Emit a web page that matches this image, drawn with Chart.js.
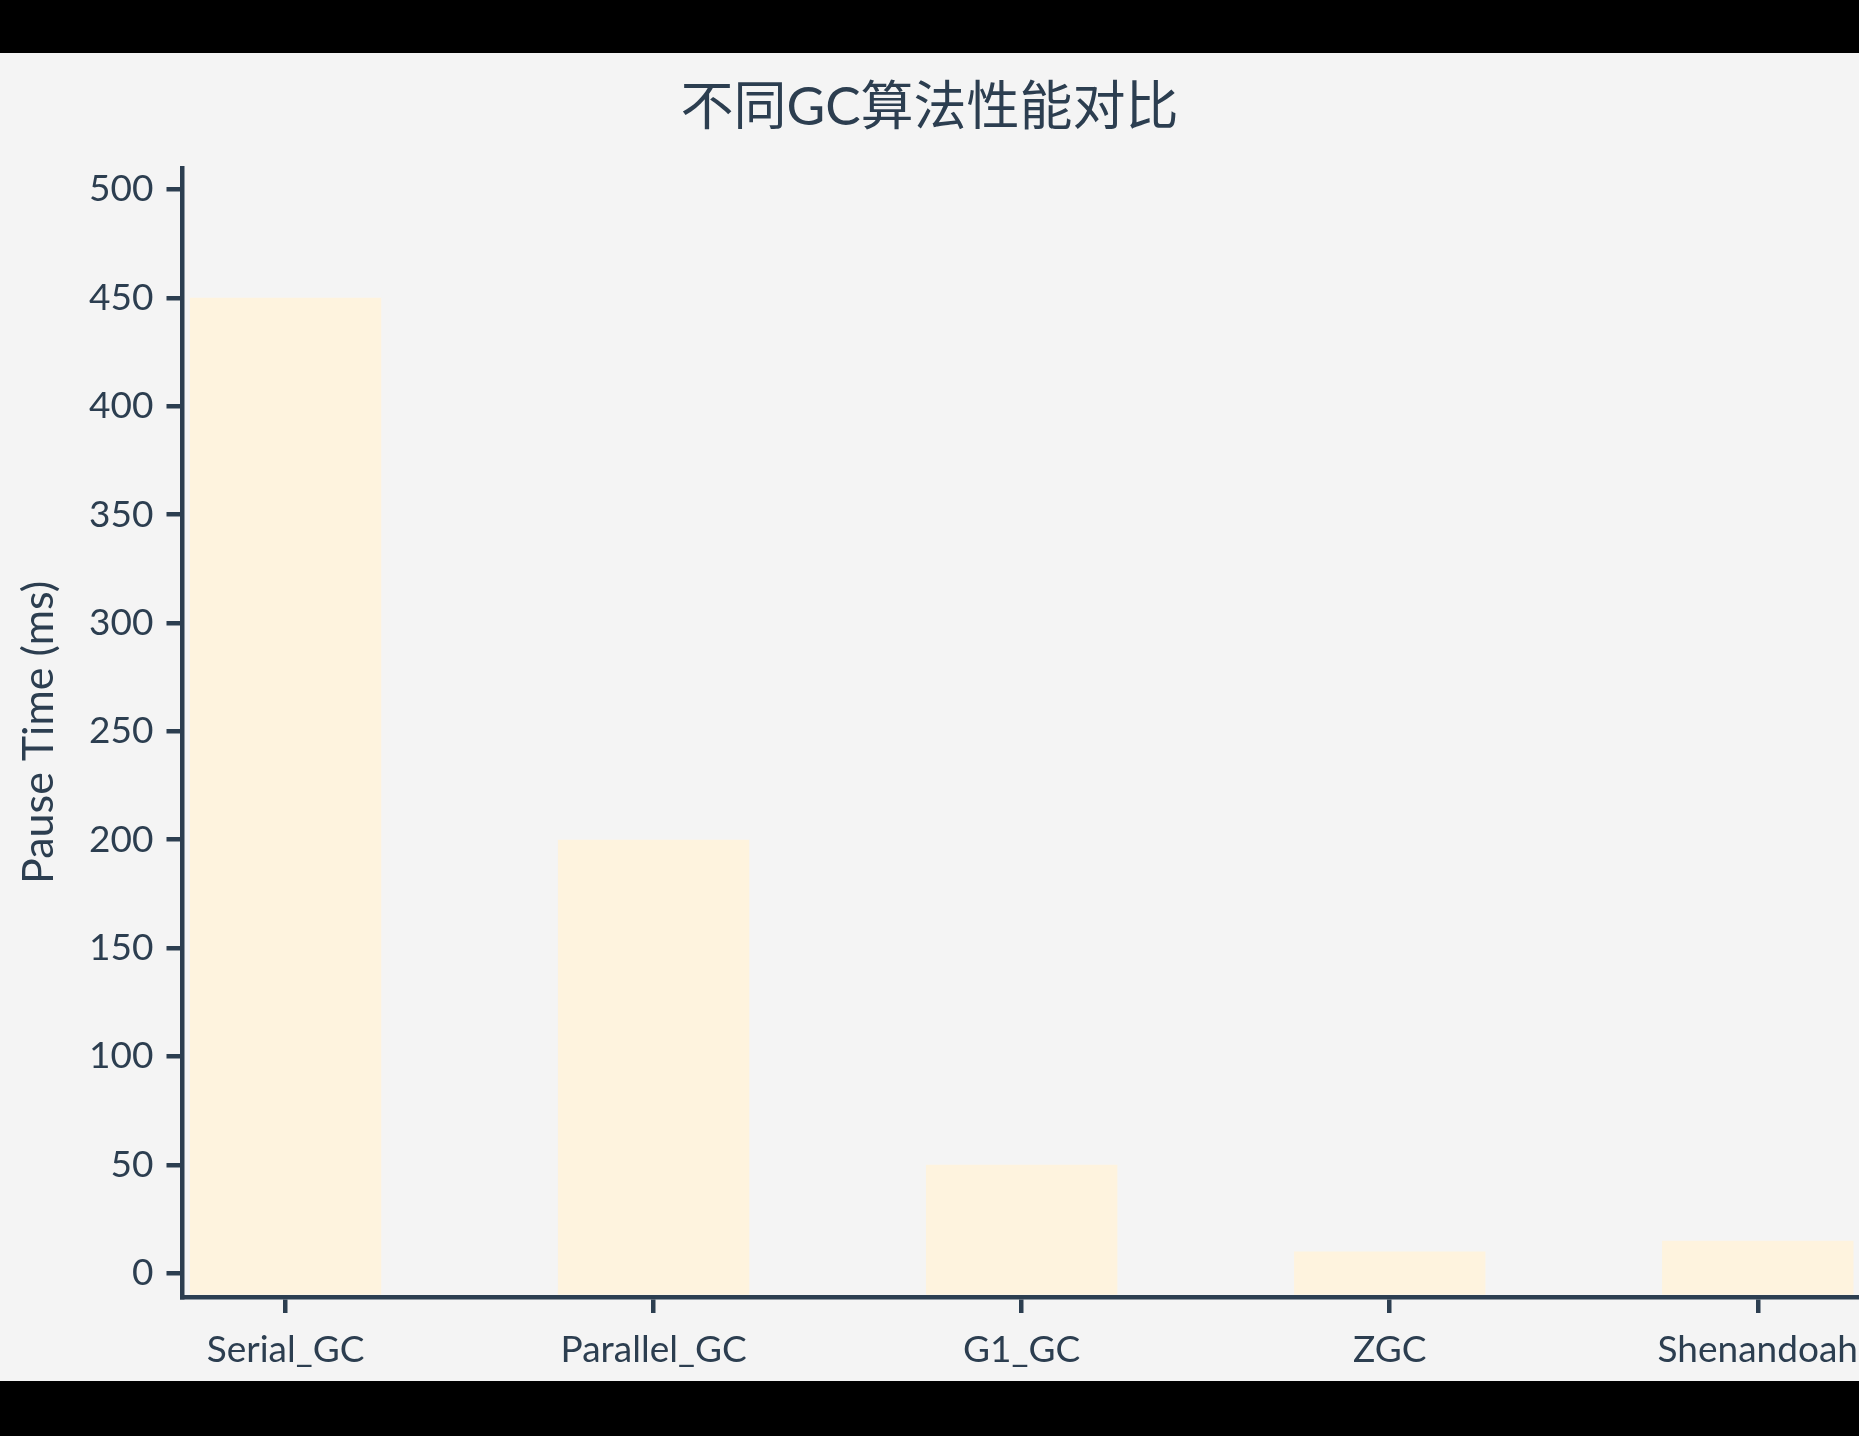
<!DOCTYPE html>
<html>
<head>
<meta charset="utf-8">
<script src="https://cdn.jsdelivr.net/npm/chart.js@4.4.1/dist/chart.umd.min.js"></script>
<style>
  html, body { margin: 0; padding: 0; background: #000; overflow: hidden; width: 1859px; height: 1436px; }
  #wrap { position: absolute; left: 0; top: 53px; width: 1859px; height: 1328px; background: #f4f4f4; }
  canvas { display: block; }
</style>
</head>
<body>
<div id="wrap"><canvas id="c"></canvas></div>
<script>
const TITLE = '不同GC算法性能对比';
const Y_TITLE = 'Pause Time (ms)';
const CATEGORIES = ['Serial_GC', 'Parallel_GC', 'G1_GC', 'ZGC', 'Shenandoah'];
const PAUSE_TIME = [450, 200, 50, 10, 15];
const Y_TICKS = [0, 50, 100, 150, 200, 250, 300, 350, 400, 450, 500];

const INK = '#2c3e50';
const FONT = "Lato, 'Noto Sans CJK SC', sans-serif";

const points = CATEGORIES.map((c, i) => ({ x: i, y: PAUSE_TIME[i] }));

new Chart(document.getElementById('c'), {
  type: 'bar',
  data: {
    datasets: [{
      label: Y_TITLE,
      data: points,
      backgroundColor: '#fef3de',
      borderWidth: 0,
      base: -10,
      categoryPercentage: 0.8,
      barPercentage: 0.65
    }]
  },
  options: {
    responsive: true,
    maintainAspectRatio: false,
    animation: false,
    devicePixelRatio: 1,
    layout: { padding: { left: 0, right: 0, top: 0, bottom: 0 } },
    plugins: {
      legend: { display: false },
      tooltip: { enabled: false },
      title: {
        display: true,
        text: TITLE,
        color: INK,
        font: { family: FONT, size: 53, weight: 'normal', lineHeight: 1.2 },
        padding: { top: 23.5, bottom: 27.7 }
      }
    },
    scales: {
      x: {
        type: 'linear',
        offset: false,
        min: -0.28,
        max: 4.275,
        afterBuildTicks: (s) => { s.ticks = CATEGORIES.map((c, i) => ({ value: i })); },
        afterFit: (s) => { s.height = 84; s.paddingLeft = 0; s.paddingRight = 0; },
        ticks: {
          autoSkip: false,
          maxRotation: 0,
          padding: 15,
          color: INK,
          font: { family: FONT, size: 37 },
          callback: (v) => CATEGORIES[v]
        },
        grid: { display: true, offset: false, drawOnChartArea: false, drawTicks: true, tickLength: 16, lineWidth: 4.5, color: INK },
        border: { display: true, width: 4.5, color: INK }
      },
      y: {
        type: 'linear',
        min: -11,
        max: 510,
        afterBuildTicks: (s) => { s.ticks = Y_TICKS.map(v => ({ value: v })); },
        afterFit: (s) => { s.width = 182.5; s.paddingTop = 0; s.paddingBottom = 0; },
        ticks: {
          padding: 13,
          color: INK,
          font: { family: FONT, size: 37 }
        },
        title: {
          display: true,
          text: Y_TITLE,
          color: INK,
          font: { family: FONT, size: 43, lineHeight: 1.2 },
          padding: { top: 13, bottom: 0 }
        },
        grid: { display: true, drawOnChartArea: false, drawTicks: true, tickLength: 16, lineWidth: 4.5, color: INK },
        border: { display: true, width: 4.5, color: INK }
      }
    }
  }
});
</script>
</body>
</html>
